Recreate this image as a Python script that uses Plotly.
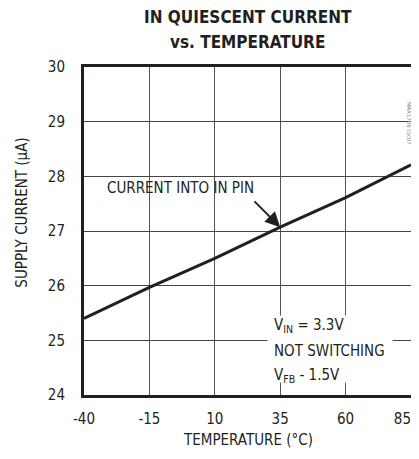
import plotly.graph_objects as go

temps = [-40, -15, 10, 35, 60, 85]
current = [25.40, 25.97, 26.50, 27.07, 27.61, 28.21]
x_ticks = [-40, -15, 10, 35, 60, 85]
y_ticks = [24, 25, 26, 27, 28, 29, 30]

FONT = "DejaVu Sans Condensed, Roboto, sans-serif"
FS = 15

# tick texts with plain hyphen minus; the last one padded so it stays visible
x_ticktext = [str(v) for v in x_ticks]
x_ticktext[-1] = x_ticktext[-1] + "\u2007\u2007"

fig = go.Figure()
fig.add_trace(go.Scatter(x=temps, y=current, mode="lines",
                         line=dict(color="#231f20", width=3), showlegend=False,
                         hoverinfo="skip"))

# page body adds an 8px offset, so the figure is kept smaller than the window
fig.update_layout(
    width=411, height=443,
    margin=dict(l=76, r=8, t=59, b=56, autoexpand=False),
    paper_bgcolor="white", plot_bgcolor="white",
    font=dict(family=FONT, size=FS, color="#231f20"),
)
fig.update_xaxes(range=[-40, 85], tickvals=x_ticks, ticktext=x_ticktext,
                 showgrid=True, gridcolor="#555", gridwidth=1, zeroline=False,
                 showline=True, linecolor="#231f20", linewidth=3, mirror=True,
                 ticks="", ticklabelstandoff=8, automargin=False,
                 ticklabeloverflow="allow")
fig.update_yaxes(range=[24, 30], tickvals=y_ticks, showgrid=True,
                 gridcolor="#444", gridwidth=1, zeroline=False,
                 showline=True, linecolor="#231f20", linewidth=3, mirror=True,
                 ticks="", ticklabelstandoff=13, automargin=False,
                 ticklabeloverflow="allow")

# title
fig.add_annotation(text="<b>IN QUIESCENT CURRENT</b>", xref="paper", yref="paper",
                   x=0.5, y=1.0 + (67 - 17) / 328, showarrow=False,
                   xanchor="center", yanchor="middle", font=dict(size=17))
fig.add_annotation(text="<b>vs. TEMPERATURE</b>", xref="paper", yref="paper",
                   x=0.5, y=1.0 + (67 - 42) / 328, showarrow=False,
                   xanchor="center", yanchor="middle", font=dict(size=17))

# axis titles
fig.add_annotation(text="TEMPERATURE (°C)", xref="paper", yref="paper",
                   x=0.5, y=-(440 - 395) / 328, showarrow=False,
                   xanchor="center", yanchor="middle", font=dict(size=FS))
fig.add_annotation(text="SUPPLY CURRENT (μA)", xref="paper", yref="paper",
                   x=-(84 - 22) / 327, y=0.556, textangle=-90, showarrow=False,
                   xanchor="center", yanchor="middle", font=dict(size=FS))

# label and arrow
fig.add_annotation(text="CURRENT INTO IN PIN", x=-3.3, y=27.79, showarrow=False,
                   xanchor="center", yanchor="middle", font=dict(size=FS))
fig.add_annotation(x=35, y=27.07, ax=24.6, ay=27.57, axref="x", ayref="y",
                   text="", showarrow=True, arrowhead=2, arrowsize=1.5,
                   arrowwidth=2, arrowcolor="#231f20")

# conditions box
fig.add_annotation(text=" ", x=30, y=24.85, xanchor="left", yanchor="middle",
                   showarrow=False, width=124, height=66, bgcolor="white",
                   borderpad=0)
cond_lines = ["V<sub>IN</sub> = 3.3V", "NOT SWITCHING", "V<sub>FB</sub> - 1.5V"]
cond_y = [25.28, 24.81, 24.36]
for t, yv in zip(cond_lines, cond_y):
    fig.add_annotation(text=t, x=31.8, y=yv, xanchor="left", yanchor="middle",
                       showarrow=False, font=dict(size=FS))

# figure code
fig.add_annotation(text="MAX1706 toc07", xref="paper", yref="paper",
                   x=1.012, y=0.9, textangle=90, showarrow=False,
                   font=dict(size=6, color="#888"))

fig.write_html("out.html")
